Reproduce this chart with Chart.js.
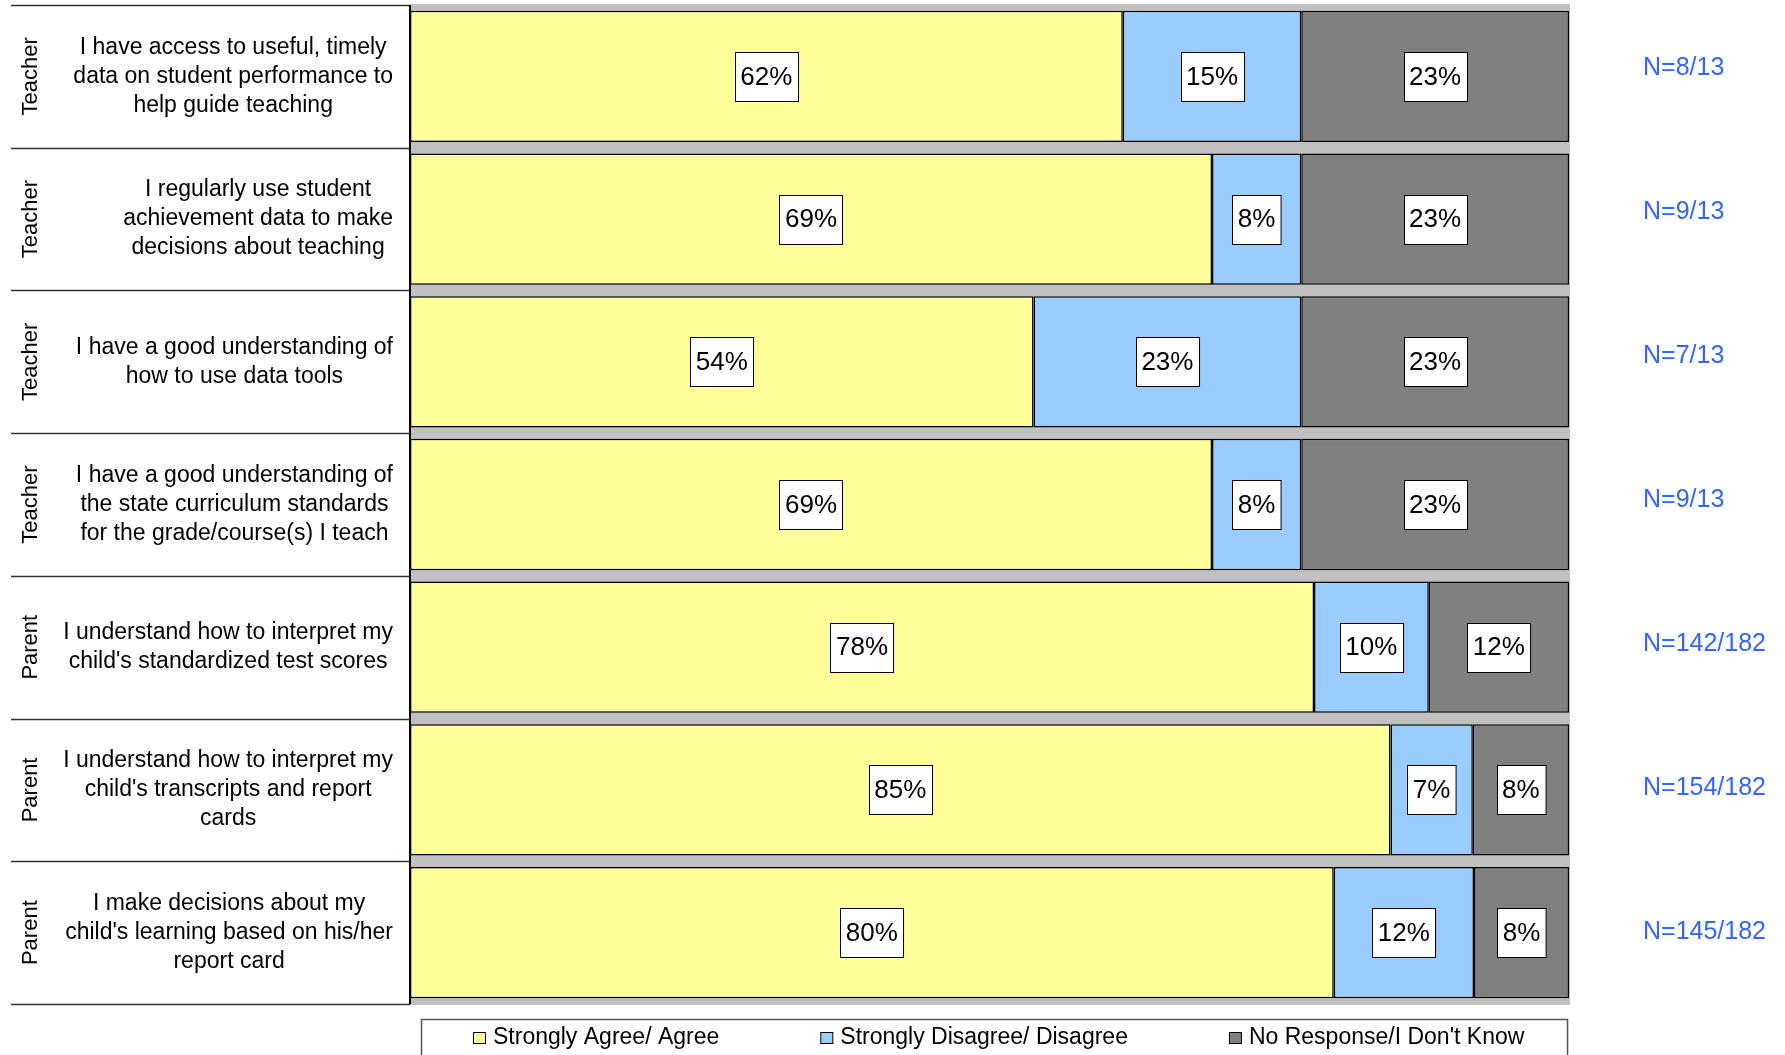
<!DOCTYPE html>
<html>
<head>
<meta charset="utf-8">
<script src="https://cdn.jsdelivr.net/npm/chart.js@4"></script>
<style>
    html, body { margin: 0; padding: 0; background: #fff; }
</style>
</head>
<body>
<canvas id="SurveyChart" width="1785" height="1055"></canvas>
<script>
let groups = ["Teacher", "Teacher", "Teacher", "Teacher", "Parent", "Parent", "Parent"];
let questions = [
    ["I have access to useful, timely", "data on student performance to", "help guide teaching"],
    ["I regularly use student", "achievement data to make", "decisions about teaching"],
    ["I have a good understanding of", "how to use data tools"],
    ["I have a good understanding of", "the state curriculum standards", "for the grade/course(s) I teach"],
    ["I understand how to interpret my", "child's standardized test scores"],
    ["I understand how to interpret my", "child's transcripts and report", "cards"],
    ["I make decisions about my", "child's learning based on his/her", "report card"]
];
let responses = ["N=8/13", "N=9/13", "N=7/13", "N=9/13", "N=142/182", "N=154/182", "N=145/182"];

let agree = [61.5, 69.2, 53.8, 69.2, 78.0, 84.6, 79.7];
let disagree = [15.4, 7.7, 23.1, 7.7, 9.9, 7.1, 12.1];
let noResponse = [23.1, 23.1, 23.1, 23.1, 12.1, 8.3, 8.2];
let seriesNames = ["Strongly Agree/ Agree", "Strongly Disagree/ Disagree", "No Response/I Don't Know"];

const FONT = "'Liberation Sans', Arial, sans-serif";

// gray plot background behind the bars
const plotBackground = {
    id: "plotBackground",
    beforeDatasetsDraw(chart) {
        let ctx = chart.ctx;
        let a = chart.chartArea;
        ctx.save();
        ctx.fillStyle = "#c0c0c0";
        ctx.fillRect(a.left, a.top - 1, a.right - a.left + 1, a.bottom - a.top + 2);
        ctx.restore();
    }
};

// white boxes with the percentages
const valueBoxes = {
    id: "valueBoxes",
    afterDatasetsDraw(chart) {
        let ctx = chart.ctx;
        ctx.save();
        ctx.font = "26px " + FONT;
        ctx.textAlign = "center";
        ctx.textBaseline = "middle";
        chart.data.datasets.forEach(function (ds, di) {
            let meta = chart.getDatasetMeta(di);
            meta.data.forEach(function (bar, i) {
                let p = bar.getProps(["x", "y", "base"], true);
                let text = Math.round(ds.data[i]) + "%";
                let cx = (p.x + p.base) / 2;
                let w = ctx.measureText(text).width + 11;
                let h = 49;
                let x0 = Math.round(cx - w / 2) + 0.5;
                let y0 = Math.round(p.y - h / 2) + 0.5;
                ctx.fillStyle = "#fff";
                ctx.fillRect(x0, y0, w, h);
                ctx.strokeStyle = "#000";
                ctx.lineWidth = 1;
                ctx.strokeRect(x0, y0, w, h);
                ctx.fillStyle = "#000";
                ctx.fillText(text, cx, p.y + 1);
            });
        });
        ctx.restore();
    }
};

// left table of questions and right N counts
const rowLabels = {
    id: "rowLabels",
    afterDraw(chart) {
        let ctx = chart.ctx;
        let a = chart.chartArea;
        let n = groups.length;
        let pitch = (a.bottom - a.top) / n;
        ctx.save();

        ctx.strokeStyle = "#333";
        ctx.lineWidth = 1.5;
        for (let k = 0; k <= n; k++) {
            let y = Math.round(a.top + k * pitch) + 0.5;
            ctx.beginPath();
            ctx.moveTo(11, y);
            ctx.lineTo(a.left, y);
            ctx.stroke();
        }
        ctx.strokeStyle = "#000";
        ctx.lineWidth = 2;
        ctx.beginPath();
        ctx.moveTo(a.left, a.top);
        ctx.lineTo(a.left, a.bottom);
        ctx.stroke();

        ctx.fillStyle = "#000";
        ctx.textBaseline = "middle";
        for (let i = 0; i < n; i++) {
            let cy = chart.scales.y.getPixelForValue(i);

            ctx.save();
            ctx.translate(31, cy);
            ctx.rotate(-Math.PI / 2);
            ctx.font = "22px " + FONT;
            ctx.textAlign = "center";
            ctx.fillText(groups[i], 0, 0);
            ctx.restore();

            ctx.font = "23px " + FONT;
            ctx.textAlign = "center";
            let lines = questions[i];
            let maxW = Math.max.apply(null, lines.map(l => ctx.measureText(l).width));
            let cx = a.left - 17 - maxW / 2;
            let lh = 29;
            let y0 = cy - (lines.length - 1) * lh / 2;
            lines.forEach(function (l, j) {
                ctx.fillText(l, cx, y0 + j * lh);
            });

            // the N text boxes sit on a slightly wider spacing than the rows
            let ny = a.top + 63 + i * 144;
            ctx.font = "25px " + FONT;
            ctx.textAlign = "left";
            ctx.fillStyle = "#3366ff";
            ctx.fillText(responses[i], a.right + 74, ny);
            ctx.fillStyle = "#000";
        }
        ctx.restore();
    }
};

// boxed legend under the plot
const boxLegend = {
    id: "boxLegend",
    afterDraw(chart) {
        let ctx = chart.ctx;
        let a = chart.chartArea;
        ctx.save();
        ctx.strokeStyle = "#555";
        ctx.lineWidth = 1.5;
        ctx.strokeRect(a.left + 11.5, a.bottom + 15.5, a.right - a.left - 13, 60);

        ctx.font = "23px " + FONT;
        ctx.textBaseline = "middle";
        ctx.textAlign = "left";
        let x = a.left + 63;
        let cy = a.bottom + 34;
        chart.data.datasets.forEach(function (ds) {
            ctx.fillStyle = ds.backgroundColor;
            ctx.fillRect(x + 0.5, cy - 5.5, 12, 11);
            ctx.strokeStyle = "#000";
            ctx.lineWidth = 1;
            ctx.strokeRect(x + 0.5, cy - 5.5, 12, 11);
            ctx.fillStyle = "#000";
            ctx.fillText(ds.label, x + 20, cy);
            x += 20 + ctx.measureText(ds.label).width + 101;
        });
        ctx.restore();
    }
};

function makeSet(label, data, colour) {
    return {
        label: label,
        data: data,
        backgroundColor: colour,
        borderColor: "#000",
        borderWidth: 1.5,
        borderSkipped: false,
        barPercentage: 1,
        categoryPercentage: 0.92
    };
}

let surveyContext = document.getElementById("SurveyChart").getContext("2d");
let surveyChart = new Chart(surveyContext, {
    type: "bar",
    data: {
        labels: questions.map(q => q.join(" ")),
        datasets: [
            makeSet(seriesNames[0], agree, "#ffff99"),
            makeSet(seriesNames[1], disagree, "#99ccff"),
            makeSet(seriesNames[2], noResponse, "#808080")
        ]
    },
    options: {
        indexAxis: "y",
        responsive: false,
        animation: false,
        devicePixelRatio: 1,
        layout: {
            padding: { left: 410, right: 216, top: 5, bottom: 51 }
        },
        scales: {
            x: { stacked: true, min: 0, max: 100, display: false },
            y: { stacked: true, display: false }
        },
        plugins: {
            legend: { display: false },
            tooltip: { enabled: false }
        }
    },
    plugins: [plotBackground, valueBoxes, rowLabels, boxLegend]
});
</script>
</body>
</html>
